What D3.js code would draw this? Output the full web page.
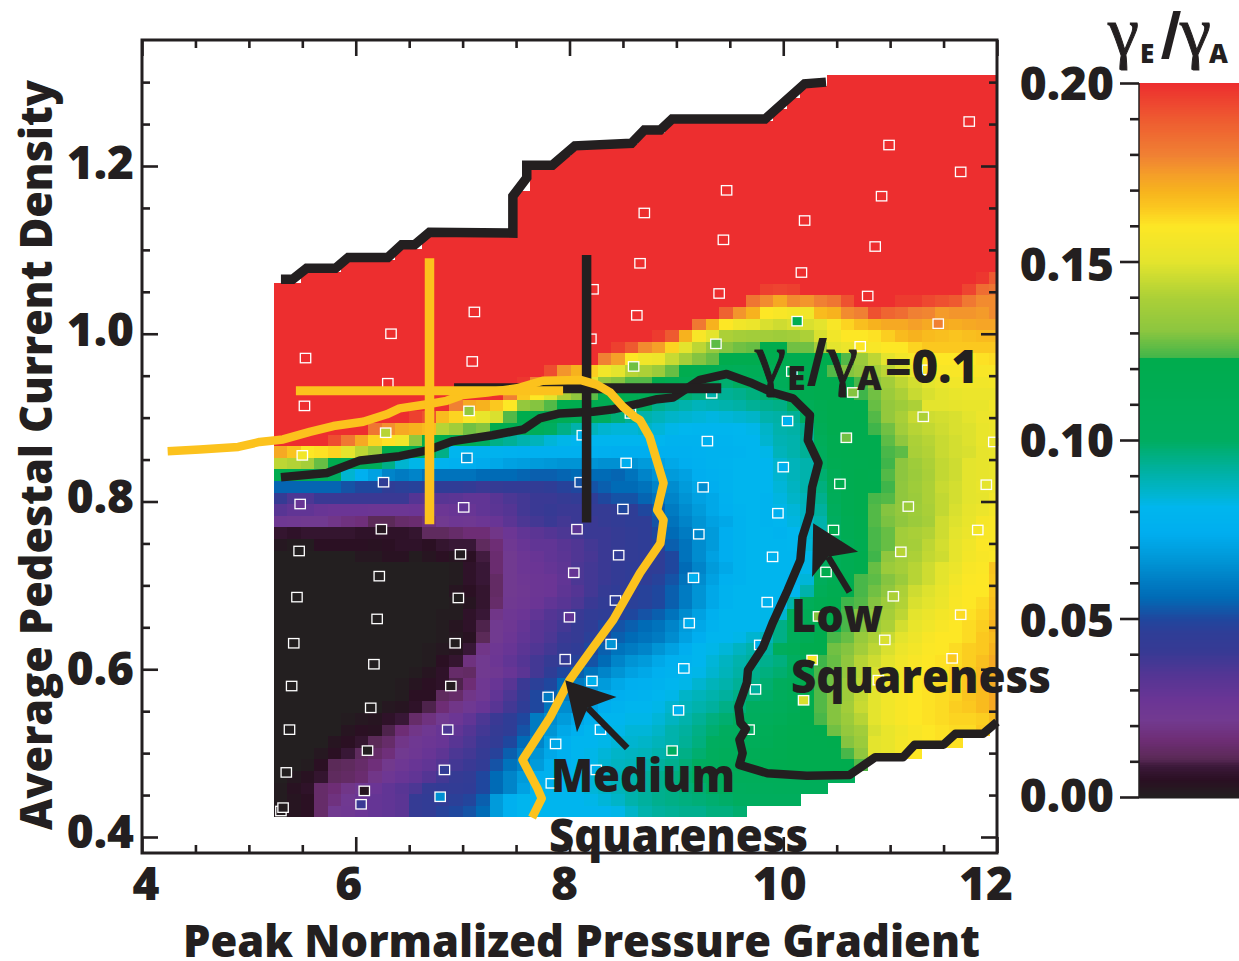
<!DOCTYPE html>
<html><head><meta charset="utf-8">
<script src="https://cdn.jsdelivr.net/npm/d3@7"></script>
<style>html,body{margin:0;padding:0;background:#fff}svg{display:block}text{font-family:"Open Sans",sans-serif;font-weight:800;fill:#231f20}</style>
</head><body><svg id="c" width="1239" height="961"></svg>
<script>
// ---- labels
const xTickLabels=[4,6,8,10,12];
const yTickLabels=[0.4,0.6,0.8,1.0,1.2];
const barTickLabels=[0,0.05,0.10,0.15,0.20];
// ---- colour map (gamma ratio in thousandths -> colour)
const cmapValues=[0,4.8,8.4,11,16,21.6,27,33.6,41,46,50,56,67,74,81.3,86,92.5,100,122.9,123,130.7,140,150,160,165,170,174,180,190,200];
const cmapColors=["#231f20","#2a0f22","#3a1838","#5b2a58","#6e2d75","#723a90","#6b3595","#563594","#363a94","#2f3d96","#1f479e","#006bb6","#0098d8","#00aeef","#00b6ee","#00b4c8","#00b09a","#00ad5f","#00ac4d","#3fb54a","#8cc63f","#acd037","#e4e42d","#fde725","#fbc81f","#f7b21e","#f5a028","#f08033","#ee5a30","#ed2e2f"];
// ---- map grid: gamma ratio in thousandths. Row 0 is the lowest row.
// each row: leading run of a flat value (rowLeadCount), then one value per column.
const gridStartX=5.235, gridStepX=0.1263, gridStartY=0.4238, gridStepY=0.01383;
const gridColumns=54;
const saturatedValue=200;
const darkLeadRows=23;
const rowLeadCount=[0,0,0,0,0,0,0,0,0,0,9,9,10,11,11,12,12,12,13,13,13,13,6,0,0,0,0,0,0,0,0,0,4,7,10,13,17,18,20,24,25,28,31,33,35,36,52];
const columnTop=[45,45,46,46,46,47,47,47,47,48,48,49,49,49,49,49,49,49,53,55,55,56,57,57,57,57,57,58,58,59,59,59,59,59,59,59,59,60,61,62,62,63,63,63,63,63,63,63,63,63,63,63,63,63];
const gridRows=[
[1,3,5,14,22,24,27,29,30,32,42,44,48,50,52,56,68,76,80,80,80,80,80,80,80,82,86,90,92,93,94,94,96,96,98],
[1,3,5,14,18,23,27,29,30,32,42,44,44,47,49,54,68,76,80,80,80,80,80,82,84,86,90,92,94,95,96,97,98,99,100,100,102,102,103],
[1,4,6,14,16,20,24,27,30,33,36,42,43,44,45,50,56,62,70,78,80,80,82,84,86,88,90,92,94,95,97,98,100,102,103,104,105,106,106,106,106],
[0,2,4,7,12,13,15,20,25,28,30,34,38,42,44,50,56,62,68,76,78,80,82,84,86,88,90,92,94,96,98,100,102,104,106,106,107,108,108,108,108,108,108],
[0,0,1,5,11,12,14,17,21,25,28,30,34,38,40,44,52,58,62,68,76,78,80,82,85,87,88,90,92,94,97,100,104,108,112,114,117,119,120,120,120,120,122,125],
[0,0,0,2,5,8,12,14,17,22,25,28,31,36,38,42,48,54,60,66,72,76,80,82,84,86,87,88,90,92,95,98,102,106,108,112,116,118,120,120,120,120,124,132,150,152,156,160],
[0,0,0,0,3,5,7,11,14,20,24,26,28,33,36,40,44,50,56,62,70,76,80,80,82,84,85,86,88,90,93,96,100,103,106,108,112,116,119,120,120,122,130,135,150,152,156,158,160,161,161],
[0,0,0,0,0,3,5,4,10,16,20,24,28,30,34,38,42,46,52,60,66,72,76,80,80,82,84,84,86,90,92,95,98,100,103,106,110,115,118,120,122,128,133,137,148,152,155,158,160,161,162,162,165],
[0,0,0,0,0,1,2,3,6,8,14,18,22,26,30,36,40,46,50,60,64,68,72,76,80,80,82,82,84,87,90,93,96,98,100,103,106,110,115,122,124,130,135,142,150,155,158,160,161,162,163,163,164,168],
[0,0,0,0,0,0,0,0,2,3,6,10,16,20,24,28,33,38,46,50,58,64,62,70,74,78,80,80,82,85,88,90,92,95,97,100,102,106,112,122,125,130,137,145,150,155,158,160,161,162,164,165,168,172],
[1,5,5,12,14,20,24,30,36,42,50,54,60,62,68,72,75,77,78,80,82,86,88,90,92,95,97,99,104,110,121,125,130,136,144,150,155,158,160,161,162,163,166,168,172],
[1,3,5,6,10,16,24,28,33,40,47,50,56,60,64,68,72,75,76,78,80,82,85,88,90,93,95,98,102,108,120,124,128,135,143,150,155,157,160,161,162,163,165,168,172],
[1,3,6,14,13,22,24,28,32,38,46,50,54,58,62,66,70,72,76,78,80,82,85,88,91,94,96,98,103,116,124,128,133,142,148,152,156,159,160,161,163,165,168,171],
[1,5,7,18,22,26,30,34,38,42,44,48,52,56,62,66,68,72,76,78,80,84,87,90,92,94,96,100,112,123,127,132,142,146,150,155,158,160,161,162,164,167,172],
[1,2,3,8,20,25,28,32,35,38,42,45,50,54,58,60,62,66,70,74,80,82,84,87,90,92,104,110,120,122,128,130,137,143,148,153,156,159,160,162,164,165,170],
[1,2,4,11,22,26,30,33,36,40,42,47,50,54,56,58,60,64,70,74,80,80,82,85,88,95,105,112,121,124,127,134,140,145,150,154,158,160,160,162,165,168],
[1,3,6,10,22,25,29,33,35,38,42,46,50,52,54,56,58,62,68,72,78,80,80,80,82,95,105,112,118,122,124,130,135,140,147,152,155,158,160,162,164,170],
[1,1,6,8,20,25,27,30,34,36,40,44,46,48,50,52,54,58,64,70,76,80,80,80,82,85,105,112,118,122,124,130,133,138,143,150,153,156,158,161,163,168],
[1,3,7,14,23,25,27,30,33,36,40,44,46,47,48,50,54,60,66,72,78,80,80,78,80,90,108,116,120,123,125,130,136,141,148,150,153,158,160,162,167],
[3,5,7,13,22,24,26,27,31,34,38,42,45,46,48,50,54,60,66,72,78,80,80,80,80,80,90,110,118,122,124,128,132,140,146,149,152,157,160,160,166],
[1,6,8,13,22,25,26,27,30,36,38,40,43,45,46,48,52,58,64,70,76,78,80,80,80,78,84,105,115,118,124,126,130,135,142,146,150,155,159,160,165],
[1,6,8,15,22,26,27,29,31,36,38,40,43,45,45,46,50,56,62,68,72,78,80,80,80,80,82,100,110,115,120,127,135,138,142,146,150,153,158,159,166],
[2,2,4,4,1,3,5,3,5,9,15,22,26,28,30,32,35,37,40,42,44,45,46,50,58,64,70,74,78,80,80,80,80,82,100,110,115,120,123,132,137,140,144,146,151,156,158,159],
[2,1,1,5,5,5,5,4,5,6,6,5,7,8,8,12,16,24,28,30,30,33,35,38,40,42,44,46,48,54,58,64,68,74,78,80,80,80,81,84,88,98,112,118,124,127,137,138,143,147,151,155,159,158],
[7,6,7,7,7,7,6,6,6,6,7,12,12,14,16,16,20,26,30,32,34,36,38,40,40,42,44,46,50,56,60,66,68,74,78,80,80,79,81,85,90,100,114,119,124,127,137,139,141,146,150,153,158,158],
[24,23,22,22,20,18,17,11,11,14,15,18,22,25,24,26,28,32,36,38,40,38,40,40,42,44,46,46,52,58,62,66,70,72,78,80,79,80,83,86,90,100,114,119,125,129,132,135,138,146,149,152,157,158],
[33,30,30,28,27,27,27,26,26,26,27,26,26,28,28,30,32,34,38,40,41,40,40,42,42,44,46,50,54,60,64,68,72,76,79,80,79,82,84,87,92,104,116,120,125,130,133,136,139,144,148,151,153,156],
[42,36,36,40,40,40,40,40,40,40,34,33,33,32,30,30,33,36,38,40,40,42,44,46,50,52,52,55,58,62,66,70,72,77,80,80,79,83,86,88,94,108,117,120,124,125,132,135,140,144,147,150,151,155],
[55,55,55,55,55,52,50,50,46,47,48,46,45,45,43,40,42,43,43,44,46,48,50,52,54,56,56,58,62,64,68,72,74,78,80,80,80,84,87,90,96,110,118,120,120,123,132,136,140,145,147,150,152,153],
[120,118,114,108,100,85,76,70,62,60,62,58,58,58,58,56,56,56,55,54,54,55,56,56,56,55,58,62,66,68,70,74,76,78,80,80,80,85,88,90,98,112,118,120,119,125,131,135,139,144,146,150,151,152],
[143,141,138,127,120,117,112,108,95,85,82,80,78,76,74,73,72,70,69,68,67,66,66,66,65,65,66,68,70,72,74,76,78,79,80,80,80,85,88,90,100,115,118,119,120,123,131,136,140,144,146,150,151,152],
[172,166,160,161,163,150,143,135,122,120,118,116,95,80,79,78,78,77,76,76,76,76,76,76,75,74,74,74,76,76,76,77,78,78,79,80,82,88,90,93,104,118,119,120,120,124,126,139,141,145,147,148,151,152],
[193,182,172,163,161,155,133,122,120,118,110,100,95,93,90,88,84,82,80,80,80,80,80,80,80,78,78,78,78,79,80,80,85,89,90,93,108,118,119,120,120,126,132,140,142,145,147,149,152,153],
[183,177,172,170,168,142,137,128,130,120,118,112,108,100,95,90,88,85,84,84,86,84,82,81,80,80,80,81,82,86,90,91,94,112,120,120,120,123,128,137,142,144,146,148,149,152,153],
[196,192,168,163,158,152,148,125,121,118,116,112,108,105,100,97,93,90,88,86,85,84,83,84,85,86,90,91,93,100,115,120,120,121,125,133,139,145,146,147,148,150,153,154],
[180,172,170,165,160,133,130,125,122,120,118,115,110,105,100,94,92,90,88,89,90,91,93,94,95,100,110,117,120,120,120,127,133,136,140,150,150,151,152,152,155,155],
[180,165,160,150,140,132,126,122,120,115,112,108,102,98,96,94,93,94,96,98,102,110,118,120,120,122,123,128,135,140,145,148,150,152,153,153,153],
[198,180,172,168,162,150,133,130,125,125,120,115,112,105,100,98,100,102,105,108,112,118,120,122,122,124,132,137,143,147,150,153,155,155,155,156],
[193,176,170,164,155,150,142,140,135,127,120,118,115,110,108,110,110,112,115,117,118,125,130,133,138,143,148,152,156,158,158,158,158,158],
[180,174,160,155,154,145,138,130,127,122,120,120,119,119,118,120,121,122,125,135,143,150,155,158,160,160,160,160,161,162],
[196,190,178,174,163,150,143,134,130,128,127,122,122,128,128,138,150,153,155,158,160,160,163,165,165,165,165,165,165],
[197,190,170,158,150,140,138,137,137,136,137,140,148,155,160,160,161,164,168,170,168,167,166,167,168,168],
[182,170,160,155,153,148,146,148,148,150,158,163,167,170,172,172,174,172,172,171,172,173,173],
[188,176,170,160,158,156,155,168,170,178,180,192,187,185,180,179,175,176,176,175,178],
[183,178,172,178,176,180,183,192,200,200,200,197,197,194,192,190,182,178,178],
[196,195,196,200,200,200,200,200,200,200,200,200,200,200,200,195,185,183],
[198,190]
];
// ---- sample points: x, y, gamma ratio in thousandths
const sampleX=[5.30,5.32,5.35,5.38,5.40,5.42,5.45,5.47,5.48,5.50,5.52,5.53,6.05,6.08,6.11,6.14,6.17,6.20,6.22,6.24,6.26,6.28,6.30,6.33,6.79,6.83,6.86,6.89,6.93,6.96,6.98,7.01,7.04,7.06,7.09,7.11,7.80,7.83,7.87,7.96,8.0,8.04,8.07,8.10,8.12,8.20,8.22,8.21,8.25,8.29,8.39,8.43,8.46,8.50,8.53,8.57,8.60,8.63,8.66,8.70,8.96,9.02,9.07,9.12,9.16,9.21,9.25,9.29,9.33,9.37,9.40,9.44,9.47,9.68,9.74,9.78,9.85,9.90,9.95,10.0,10.04,10.08,10.13,10.17,10.20,10.19,10.27,10.33,10.40,10.47,10.53,10.59,10.65,10.72,10.79,10.86,10.92,10.89,10.95,11.03,11.10,11.17,11.31,11.35,11.45,10.99,11.66,11.74,11.58,11.66,11.82,11.90,11.97];
const sampleY=[.431,.435,.477,.528,.58,.631,.686,.741,.797,.855,.914,.971,.439,.455,.503,.554,.606,.66,.711,.767,.823,.882,.941,1.0,.448,.48,.528,.58,.631,.685,.737,.793,.852,.908,.967,1.026,.567,.464,.511,.612,.662,.715,.767,.823,.879,.994,1.053,.586,.48,.528,.63,.682,.736,.791,.846,.905,.961,1.022,1.084,1.144,.503,.551,.601,.655,.709,.761,.817,.872,.929,.988,1.048,1.112,1.171,.528,.576,.629,.68,.734,.786,.841,.896,.955,1.015,1.073,1.135,.563,.611,.663,.716,.766,.821,.876,.93,.985,1.045,1.104,1.164,.587,.635,.687,.74,.794,.901,.957,1.012,1.225,1.193,1.253,.613,.665,.766,.82,.871];
const sampleValue=[1,1,0,0,0,0,0,0,28,155,200,200,40,3,0,0,0,0,0,2,46,142,200,200,65,44,36,1,0,0,1,30,66,133,200,200,60,76,72,42,30,29,32,52,78,200,200,78,78,76,66,46,44,50,75,90,128,200,200,200,100,78,78,75,76,63,64,76,90,126,200,200,200,100,92,77,78,78,76,76,78,100,118,200,200,148,158,130,122,120,120,128,130,160,200,200,200,158,148,140,142,135,140,158,180,200,200,200,165,162,156,150,152];
// ---- outlines
const topEdgeX=[5.30,5.41,5.54,5.81,5.93,6.30,6.43,6.55,6.69,7.47,7.47,7.60,7.60,7.84,8.05,8.58,8.70,8.85,8.96,9.83,10.20,10.40];
const topEdgeY=[1.065,1.065,1.078,1.078,1.091,1.091,1.106,1.106,1.121,1.120,1.164,1.186,1.201,1.201,1.224,1.227,1.243,1.243,1.256,1.256,1.298,1.300];
const lowContourX=[5.30,5.73,6.04,6.41,6.67,6.91,7.28,7.57,7.72,7.91,8.22,8.41,8.66,8.82,8.97,9.22,9.47,9.69,9.90,10.09,10.25,10.23,10.33,10.27,10.25,10.18,10.16,10.04,9.90,9.81,9.67,9.66,9.58,9.60,9.65,9.59,9.62,9.59,9.85,10.22,10.62,10.86,11.12,11.23,11.50,11.61,11.87,12.0];
const lowContourY=[.829,.834,.849,.854,.861,.872,.879,.886,.899,.905,.907,.910,.917,.922,.924,.945,.952,.942,.930,.923,.903,.873,.846,.817,.786,.758,.730,.694,.655,.626,.599,.584,.555,.536,.529,.516,.500,.486,.476,.473,.474,.495,.495,.510,.510,.523,.523,.537];
const mediumContourX=[4.24,4.54,4.90,5.10,5.32,5.57,5.79,6.07,6.29,6.41,6.67,6.85,7.00,7.23,7.51,7.75,8.10,8.26,8.38,8.50,8.61,8.66,8.75,8.88,8.82,8.88,8.85,8.66,8.54,8.41,8.22,8.00,7.82,7.56,7.70,7.74,7.65];
const mediumContourY=[.860,.862,.865,.871,.874,.883,.890,.895,.904,.911,.916,.920,.927,.930,.935,.944,.945,.939,.930,.913,.901,.897,.877,.822,.790,.778,.750,.715,.688,.659,.626,.587,.543,.492,.458,.446,.423];
// ---- crosshairs: x0,x1,y0,y1
const blackCrossH=[6.92,9.42,.935,.935], blackCrossV=[8.16,8.16,1.094,.775];
const yellowCrossH=[5.44,7.94,.932,.932], yellowCrossV=[6.69,6.69,1.09,.773];
// ---- arrows: head outline and shaft
const arrowMediumHead=[[7.96,.587],[8.44,.567],[8.17,.554],[8.07,.525]], arrowMediumShaft=[[8.17,.554],[8.54,.506]];
const arrowLowHead=[[10.28,.774],[10.70,.740],[10.42,.734],[10.27,.710]], arrowLowShaft=[[10.42,.734],[10.62,.692]];

const ink="#231f20", yellow="#fcc21d";
const svg=d3.select("#c");
const x=d3.scaleLinear().domain([4,12]).range([142,997]);
const y=d3.scaleLinear().domain([0.4,1.2]).range([837,166]);
const bar=d3.scaleLinear().domain([0,0.2]).range([797,83]);
const color=d3.scaleLinear().domain(cmapValues).range(cmapColors).clamp(true);
const frameL=142,frameR=997,frameT=40,frameB=853;

svg.append("clipPath").attr("id","pl").append("rect").attr("x",frameL).attr("y",frameT).attr("width",frameR-frameL).attr("height",frameB-frameT);
// cells
const cells=[];
for(let r=0;r<=63;r++){
  const row=gridRows[r], lead=r<rowLeadCount.length?rowLeadCount[r]:0;
  const leadV=r<darkLeadRows?0:saturatedValue;
  const n=r<gridRows.length?lead+row.length:gridColumns;
  if(r<gridRows.length&&r>=8&&n!==gridColumns)console.error("row",r,"has",n);
  for(let c=0;c<n;c++){
    if(r>columnTop[c])continue;
    let v;
    if(r>=gridRows.length)v=saturatedValue; else v=c<lead?leadV:row[c-lead];
    cells.push({c,r,v});
  }
}
svg.append("g").attr("clip-path","url(#pl)").selectAll("rect").data(cells).join("rect")
 .attr("x",d=>x(gridStartX+d.c*gridStepX)).attr("y",d=>y(gridStartY+(d.r+1)*gridStepY))
 .attr("width",x(gridStepX)-x(0)+0.4).attr("height",y(0)-y(gridStepY)+0.4)
 .attr("fill",d=>color(d.v)).attr("shape-rendering","crispEdges");
// sample points
svg.append("g").selectAll("rect").data(sampleX.map((v,i)=>[v,sampleY[i],sampleValue[i]])).join("rect")
 .attr("x",d=>x(d[0])-5.2).attr("y",d=>y(d[1])-4.7).attr("width",10.4).attr("height",9.4)
 .attr("fill",d=>color(d[2])).attr("stroke","#fff").attr("stroke-width",1.3);
// lines
const line=d3.line().x(d=>x(d[0])).y(d=>y(d[1]));
const pairs=(a,b)=>a.map((v,i)=>[v,b[i]]);
const drawLine=(pts,col,w,join="round")=>svg.append("path").attr("d",line(pts)).attr("fill","none").attr("stroke",col).attr("stroke-width",w).attr("stroke-linejoin",join);
const cross=a=>[[a[0],a[2]],[a[1],a[3]]];
drawLine(pairs(topEdgeX,topEdgeY),ink,9.5,"miter");
drawLine(pairs(lowContourX,lowContourY),ink,8.5);
drawLine(cross(blackCrossH),ink,10);
drawLine(cross(blackCrossV),ink,9.5);
drawLine(pairs(mediumContourX,mediumContourY),yellow,8.5);
drawLine(cross(yellowCrossH),yellow,9);
drawLine(cross(yellowCrossV),yellow,9.5);
// arrows
for(const [h,s] of [[arrowMediumHead,arrowMediumShaft],[arrowLowHead,arrowLowShaft]]){
  svg.append("path").attr("d",line(h)+"Z").attr("fill",ink);
  drawLine(s,ink,6.5,"miter");
}
// axes
const strip=g=>{g.select(".domain").remove();g.selectAll("line").attr("stroke",ink).attr("stroke-width",2.6);g.selectAll("text").remove();};
const xMinor=d3.range(4,12.01,0.5).filter(v=>v%2!==0), xMajor=d3.range(4,12.01,2);
const yMinor=d3.range(0.4,1.31,0.05).filter(v=>Math.abs(v*5-Math.round(v*5))>1e-6), yMajor=yTickLabels;
const place=(ax,t)=>svg.append("g").attr("transform",t).call(ax).call(strip);
place(d3.axisBottom(x).tickValues(xMinor).tickSize(-8),`translate(0,${frameB})`);
place(d3.axisBottom(x).tickValues(xMajor).tickSize(-16),`translate(0,${frameB})`);
place(d3.axisTop(x).tickValues(xMinor).tickSize(-8),`translate(0,${frameT})`);
place(d3.axisTop(x).tickValues(xMajor).tickSize(-16),`translate(0,${frameT})`);
place(d3.axisLeft(y).tickValues(yMinor).tickSize(-8),`translate(${frameL},0)`);
place(d3.axisLeft(y).tickValues(yMajor).tickSize(-16),`translate(${frameL},0)`);
place(d3.axisRight(y).tickValues(yMinor).tickSize(-8),`translate(${frameR},0)`);
place(d3.axisRight(y).tickValues(yMajor).tickSize(-16),`translate(${frameR},0)`);
svg.append("rect").attr("x",frameL).attr("y",frameT).attr("width",frameR-frameL).attr("height",frameB-frameT).attr("fill","none").attr("stroke",ink).attr("stroke-width",3);
// axis tick labels (the printed labels sit slightly off their ticks in the reference)
const xLabelShift=[4,-7,-5,-3.5,-11], yLabelBase=[10.5,15.5,11.5,12.5,12.5];
svg.selectAll(".xl").data(xTickLabels).join("text").attr("text-anchor","middle").attr("font-size",46)
  .attr("x",(d,i)=>x(d)+xLabelShift[i]).attr("y",900).text(d=>d);
svg.selectAll(".yl").data(yTickLabels).join("text").attr("text-anchor","end").attr("font-size",46)
  .attr("x",134).attr("y",(d,i)=>y(d)+yLabelBase[i]).text(d=>d3.format(".1f")(d));
// colour bar
const barLevels=d3.range(0,200,0.5);
svg.append("g").selectAll("rect").data(barLevels).join("rect").attr("x",1139).attr("width",100)
 .attr("y",d=>bar((d+0.5)/1000)).attr("height",(bar(0)-bar(0.0005))+0.4).attr("fill",d=>color(d+0.25)).attr("shape-rendering","crispEdges");
svg.append("rect").attr("x",1139).attr("y",797).attr("width",100).attr("height",1.5).attr("fill",ink);
const barMinor=d3.range(0.01,0.2,0.01).filter(v=>Math.round(v*100)%5!==0);
place(d3.axisLeft(bar).tickValues(barMinor).tickSize(9),"translate(1139,0)");
place(d3.axisLeft(bar).tickValues(barTickLabels).tickSize(19),"translate(1139,0)");
svg.append("line").attr("x1",1139).attr("x2",1139).attr("y1",83).attr("y2",798).attr("stroke",ink).attr("stroke-width",1.5);
const barBase=[14.5,18.5,17,19,17];
svg.selectAll(".bl").data(barTickLabels).join("text").attr("text-anchor","end").attr("font-size",46)
  .attr("x",1114).attr("y",(d,i)=>bar(d)+barBase[i]).text(d=>d3.format(".2f")(d));
// titles
const fit=(t,len)=>t.attr("textLength",len).attr("lengthAdjust","spacingAndGlyphs");
fit(svg.append("text").attr("x",183).attr("y",957).attr("font-size",44).text("Peak Normalized Pressure Gradient"),797);
fit(svg.append("text").attr("transform","translate(52,830) rotate(-90)").attr("font-size",44).text("Average Pedestal Current Density"),750);
// gamma ratio labels, glyph by glyph
function gammaLabel(g1,sub1,slash,g2,sub2,base,subBase,slashBase,subSize){
  const gam=px=>svg.append("text").attr("x",px).attr("y",base).attr("font-size",70)
    .style("font-family","'Liberation Serif'").style("font-weight",400).attr("stroke",ink).attr("stroke-width",1).text("\u03b3");
  gam(g1);gam(g2);
  svg.append("text").attr("x",sub1).attr("y",subBase).attr("font-size",subSize).text("E");
  svg.append("text").attr("x",sub2).attr("y",subBase).attr("font-size",subSize).text("A");
  fit(svg.append("text").attr("x",slash).attr("y",slashBase).attr("font-size",66).text("/"),20);
}
gammaLabel(1108,1140,1161,1180,1209,55,63,58,26);
gammaLabel(755,787,807,827,857,382,390,385,34);
fit(svg.append("text").attr("x",885).attr("y",383).attr("font-size",46).text("=0.1"),93);
// annotations
const note=(s,px,base,len)=>fit(svg.append("text").attr("x",px).attr("y",base).attr("font-size",46).text(s),len);
note("Low",791,632,92);
note("Squareness",791,693,260);
note("Medium",551,792,184);
note("Squareness",549,852,259);
</script></body></html>
